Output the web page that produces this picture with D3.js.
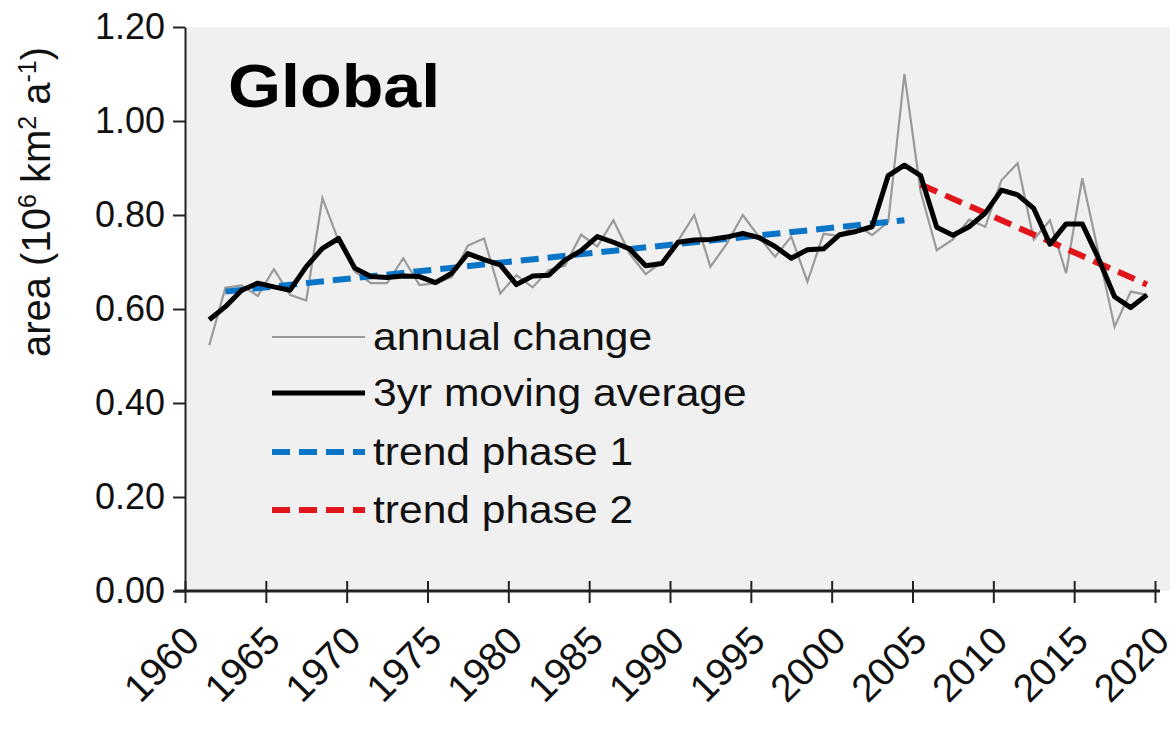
<!DOCTYPE html>
<html>
<head>
<meta charset="utf-8">
<script src="https://cdn.jsdelivr.net/npm/d3@7/dist/d3.min.js"></script>
<style>
  html, body { margin: 0; padding: 0; background: #fff; }
  svg { display: block; font-family: 'Liberation Sans', Arial, sans-serif; }
</style>
</head>
<body>
<div id="chart"></div>
<script>
// values (10^6 km2 per year), one per year 1961-2019
const years = [
  1961, 1962, 1963, 1964, 1965, 1966, 1967, 1968, 1969, 1970,
  1971, 1972, 1973, 1974, 1975, 1976, 1977, 1978, 1979, 1980,
  1981, 1982, 1983, 1984, 1985, 1986, 1987, 1988, 1989, 1990,
  1991, 1992, 1993, 1994, 1995, 1996, 1997, 1998, 1999, 2000,
  2001, 2002, 2003, 2004, 2005, 2006, 2007, 2008, 2009, 2010,
  2011, 2012, 2013, 2014, 2015, 2016, 2017, 2018, 2019
];
const annualChange = [
  0.523, 0.645, 0.650, 0.628, 0.685, 0.630, 0.618, 0.836, 0.745, 0.680,
  0.655, 0.655, 0.708, 0.651, 0.655, 0.668, 0.735, 0.750, 0.633, 0.672,
  0.646, 0.683, 0.692, 0.758, 0.733, 0.789, 0.718, 0.674, 0.700, 0.745,
  0.800, 0.690, 0.738, 0.800, 0.754, 0.711, 0.754, 0.658, 0.760, 0.755,
  0.780, 0.757, 0.785, 1.100, 0.850, 0.725, 0.748, 0.790, 0.775, 0.874,
  0.910, 0.748, 0.789, 0.676, 0.878, 0.720, 0.562, 0.637, 0.630
];
const movingAvg = [
  0.577, 0.605, 0.640, 0.655, 0.647, 0.640, 0.690, 0.729, 0.750, 0.687,
  0.669, 0.667, 0.670, 0.669, 0.656, 0.676, 0.718, 0.705, 0.694, 0.652,
  0.670, 0.672, 0.704, 0.724, 0.754, 0.742, 0.728, 0.692, 0.697, 0.742,
  0.747, 0.748, 0.753, 0.761, 0.752, 0.733, 0.708, 0.726, 0.728, 0.758,
  0.765, 0.775, 0.884, 0.906, 0.884, 0.774, 0.757, 0.775, 0.804, 0.853,
  0.843, 0.814, 0.738, 0.781, 0.781, 0.708, 0.626, 0.603, 0.630
];
// linear trends, start and end
const trendPhase1Years = [1962, 2004];
const trendPhase1Values = [0.637, 0.789];
const trendPhase2Years = [2005, 2019];
const trendPhase2Values = [0.865, 0.652];

const xTicks = [1960, 1965, 1970, 1975, 1980, 1985, 1990, 1995, 2000, 2005, 2010, 2015, 2020];
const yTicks = [0, 0.2, 0.4, 0.6, 0.8, 1.0, 1.2];
const legendLabels = ['annual change', '3yr moving average', 'trend phase 1', 'trend phase 2'];

(function initChart() {
  const width = 1176, height = 731;
  const margin = { top: 27, right: 6, bottom: 140, left: 185 };
  const innerWidth = width - margin.left - margin.right;
  const innerHeight = height - margin.top - margin.bottom;

  const svg = d3.select('#chart')
    .append('svg')
    .attr('width', width)
    .attr('height', height)
    .attr('viewBox', `0 0 ${width} ${height}`);

  svg.append('rect').attr('width', width).attr('height', height).attr('fill', '#fff');

  const g = svg.append('g').attr('transform', `translate(${margin.left},${margin.top})`);

  // plot area
  g.append('rect')
    .attr('width', innerWidth)
    .attr('height', innerHeight)
    .attr('fill', '#f0f0f0');

  // Scales
  const x = d3.scaleLinear().domain([1960, 2020]).range([0, 970]);
  const y = d3.scaleLinear().domain([0, 1.2]).range([innerHeight, 0]);

  const toPoints = (ys, vs) => ys.map((yr, i) => ({ year: yr, value: vs[i] }));
  const annual = toPoints(years, annualChange);
  const avg = toPoints(years, movingAvg);
  const trend1 = toPoints(trendPhase1Years, trendPhase1Values);
  const trend2 = toPoints(trendPhase2Years, trendPhase2Values);

  // data sit at mid-year
  const line = d3.line()
    .x(d => x(d.year + 0.5))
    .y(d => y(d.value));

  // Axes
  const gy = g.append('g').attr('class', 'axis y')
    .call(d3.axisLeft(y).tickValues(yTicks).tickSize(12).tickSizeOuter(0)
      .tickPadding(8).tickFormat(d3.format('.2f')));
  gy.select('.domain').attr('stroke', '#222').attr('stroke-width', 2);
  gy.selectAll('.tick line').attr('stroke', '#222').attr('stroke-width', 2);
  gy.selectAll('.tick text')
    .attr('font-size', 36)
    .attr('fill', '#111');

  const gx = g.append('g').attr('class', 'axis x')
    .attr('transform', `translate(0,${innerHeight})`)
    .call(d3.axisBottom(x).tickValues(xTicks).tickSize(12).tickSizeOuter(0)
      .tickFormat(d3.format('d')));
  gx.select('.domain').remove();
  gx.append('line')
    .attr('x1', -10).attr('x2', 975)
    .attr('stroke', '#222').attr('stroke-width', 3);
  gx.selectAll('.tick line')
    .attr('y1', -10).attr('y2', 12)
    .attr('stroke', '#222').attr('stroke-width', 2);
  gx.selectAll('.tick text')
    .attr('font-size', 39)
    .attr('fill', '#111')
    .attr('text-anchor', 'end')
    .attr('y', 0).attr('dy', 0)
    .attr('transform', 'translate(16,52) rotate(-45)');

  // y title
  const title = svg.append('text')
    .attr('transform', `translate(50,${margin.top + 175}) rotate(-90)`)
    .attr('text-anchor', 'middle')
    .attr('font-size', 40)
    .attr('fill', '#111');
  title.append('tspan').text('area (10');
  title.append('tspan').attr('baseline-shift', 'super').attr('font-size', 25).text('6');
  title.append('tspan').text(' km');
  title.append('tspan').attr('baseline-shift', 'super').attr('font-size', 25).text('2');
  title.append('tspan').text(' a');
  title.append('tspan').attr('baseline-shift', 'super').attr('font-size', 25).text('-1');
  title.append('tspan').text(')');

  // Lines
  g.append('path').datum(annual)
    .attr('d', line).attr('fill', 'none')
    .attr('stroke', '#9a9a9a').attr('stroke-width', 2.2);

  g.append('path').datum(trend1)
    .attr('d', line).attr('fill', 'none')
    .attr('stroke', '#0a74c6').attr('stroke-width', 6)
    .attr('stroke-dasharray', '18,9');

  g.append('path').datum(trend2)
    .attr('d', line).attr('fill', 'none')
    .attr('stroke', '#e0161b').attr('stroke-width', 6)
    .attr('stroke-dasharray', '18,9');

  g.append('path').datum(avg)
    .attr('d', line).attr('fill', 'none')
    .attr('stroke', '#000').attr('stroke-width', 5)
    .attr('stroke-linejoin', 'round');

  // Panel label
  svg.append('text')
    .attr('transform', 'translate(228,107) scale(1.1,1)')
    .attr('font-size', 62).attr('font-weight', 'bold')
    .attr('fill', '#000')
    .text('Global');

  // Legend
  const legendStyle = [
    { stroke: '#9a9a9a', width: 2.2, dash: null },
    { stroke: '#000', width: 5, dash: null },
    { stroke: '#0a74c6', width: 6, dash: '18,9' },
    { stroke: '#e0161b', width: 6, dash: '18,9' }
  ];
  const legendY = [337, 393, 452, 510];
  const legend = svg.append('g').attr('class', 'legend');
  legendLabels.forEach((label, i) => {
    const row = legend.append('g').attr('transform', `translate(272,${legendY[i]})`);
    row.append('line')
      .attr('x1', 0).attr('x2', 93)
      .attr('stroke', legendStyle[i].stroke)
      .attr('stroke-width', legendStyle[i].width)
      .attr('stroke-dasharray', legendStyle[i].dash);
    row.append('text')
      .attr('transform', 'translate(101,0) scale(1.12,1)')
      .attr('dy', '0.35em')
      .attr('font-size', 38).attr('fill', '#111')
      .text(label);
  });
})();
</script>
</body>
</html>
